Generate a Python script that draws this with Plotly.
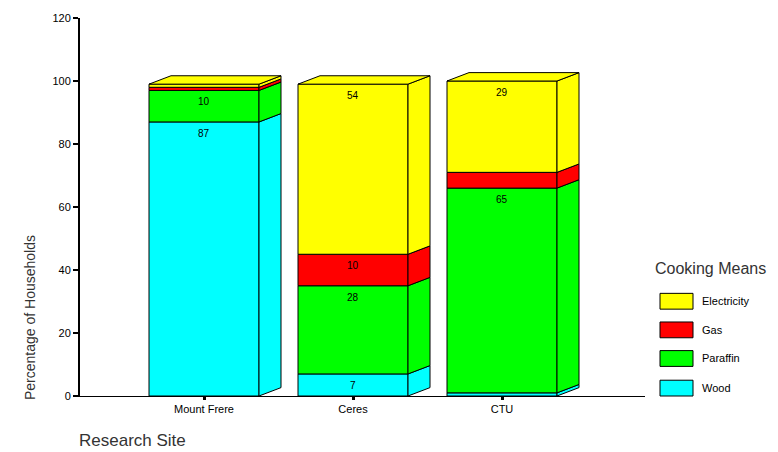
import plotly.graph_objects as go

# ---- data ----
sites = ["Mount Frere", "Ceres", "CTU"]
means = ["Wood", "Paraffin", "Gas", "Electricity"]
wood = [87, 7, 1]
paraffin = [10, 28, 65]
gas = [1, 10, 5]
electricity = [1, 54, 29]
series = {"Wood": wood, "Paraffin": paraffin, "Gas": gas, "Electricity": electricity}
y_ticks = [0, 20, 40, 60, 80, 100, 120]
legend_order = ["Electricity", "Gas", "Paraffin", "Wood"]
label_min = 7  # segments smaller than this carry no value label

colors = {"Wood": "#00FFFF", "Paraffin": "#00FF00", "Gas": "#FF0000", "Electricity": "#FFFF00"}

# ---- geometry (pixels) ----
W, H = 778, 452
L, R, T, B = 80, 645, 13, 396
cat0_px, cat_step_px = 204, 149
x_range = [(L - cat0_px) / cat_step_px, (R - cat0_px) / cat_step_px]
y_range = [0, 120]
bar_w = 110 / cat_step_px
dx = 22 / cat_step_px
dy = 8.5 * (y_range[1] - y_range[0]) / (B - T)

def px2paper(px, py):
    return (px - L) / (R - L), (B - py) / (B - T)

FONT = "Liberation Sans, Arial, sans-serif"
fig = go.Figure()

xs = list(range(len(sites)))
tops = [0] * len(sites)
annotations = []

for m in means:
    vals = series[m]
    base = tops[:]
    fig.add_trace(go.Bar(
        x=xs, y=vals, base=base, width=bar_w, name=m,
        marker=dict(color=colors[m], line=dict(color="black", width=1)),
        showlegend=False, hoverinfo="skip"))
    for i, v in enumerate(vals):
        y0, y1 = base[i], base[i] + v
        x1 = i + bar_w / 2
        fig.add_trace(go.Scatter(
            x=[x1, x1 + dx, x1 + dx, x1, x1],
            y=[y0, y0 + dy, y1 + dy, y1, y0],
            mode="lines", fill="toself", fillcolor=colors[m],
            line=dict(color="black", width=1), showlegend=False, hoverinfo="skip"))
        if v >= label_min:
            annotations.append(dict(x=i, y=y1, xref="x", yref="y", text=str(v),
                                    showarrow=False, yanchor="top", yshift=-4,
                                    font=dict(size=10, color="black", family=FONT)))
        tops[i] = y1

# top faces
for i, t in enumerate(tops):
    x0, x1 = i - bar_w / 2, i + bar_w / 2
    fig.add_trace(go.Scatter(
        x=[x0, x1, x1 + dx, x0 + dx, x0],
        y=[t, t, t + dy, t + dy, t],
        mode="lines", fill="toself", fillcolor=colors[means[-1]],
        line=dict(color="black", width=1), showlegend=False, hoverinfo="skip"))

# ---- custom legend ----
shapes = []
ax, ay = px2paper(653, 267)
annotations.append(dict(x=ax, y=ay, xref="paper", yref="paper", text="Cooking Means",
                        showarrow=False, xanchor="left", yanchor="middle",
                        font=dict(size=16, color="#333333", family=FONT)))
sw_y = [300, 329, 358, 388]
for m, cy in zip(legend_order, sw_y):
    x0p, y0p = px2paper(660, cy + 8)
    x1p, y1p = px2paper(693, cy - 8)
    shapes.append(dict(type="rect", xref="paper", yref="paper", x0=x0p, y0=y0p, x1=x1p, y1=y1p,
                       fillcolor=colors[m], line=dict(color="black", width=1)))
    tx, ty = px2paper(700, cy)
    annotations.append(dict(x=tx, y=ty, xref="paper", yref="paper", text=m, showarrow=False,
                            xanchor="left", yanchor="middle",
                            font=dict(size=11, color="black", family=FONT)))

# axis titles
tx, ty = px2paper(30, 317)
annotations.append(dict(x=tx, y=ty, xref="paper", yref="paper", text="Percentage of Households",
                        showarrow=False, textangle=-90, xanchor="center", yanchor="middle",
                        font=dict(size=14, color="#333333", family=FONT)))
tx, ty = px2paper(77, 441)
annotations.append(dict(x=tx, y=ty, xref="paper", yref="paper", text="Research Site",
                        showarrow=False, xanchor="left", yanchor="middle",
                        font=dict(size=17, color="#333333", family=FONT)))

fig.update_layout(
    width=W, height=H,
    margin=dict(l=L, r=W - R, t=T, b=H - B, pad=0),
    paper_bgcolor="white", plot_bgcolor="white",
    barmode="overlay", showlegend=False,
    shapes=shapes, annotations=annotations,
    xaxis=dict(range=x_range, tickmode="array", tickvals=xs, ticktext=sites,
               showgrid=False, zeroline=False, showline=True, linecolor="black", linewidth=1,
               ticks="outside", ticklen=3, tickwidth=3, tickcolor="black",
               tickfont=dict(size=11, color="black", family=FONT)),
    yaxis=dict(range=y_range, tickmode="array", tickvals=y_ticks,
               showgrid=False, zeroline=False, showline=True, linecolor="black", linewidth=2,
               ticks="outside", ticklen=5, tickwidth=2, tickcolor="black",
               tickfont=dict(size=11, color="black", family=FONT)),
)

fig.write_html("out.html")
